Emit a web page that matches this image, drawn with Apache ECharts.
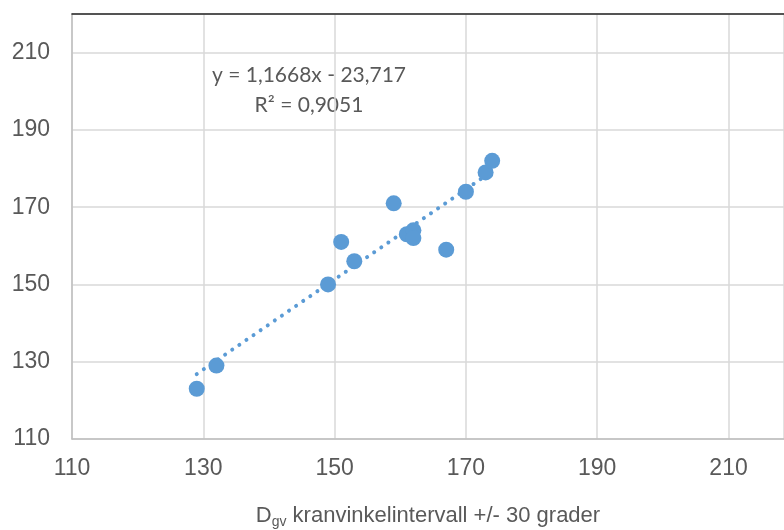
<!DOCTYPE html>
<html>
<head>
<meta charset="utf-8">
<script src="https://cdn.jsdelivr.net/npm/echarts@6/dist/echarts.min.js"></script>
<style>
html, body { margin: 0; padding: 0; background: #fff; }
#main { width: 784px; height: 530px; }
</style>
</head>
<body>
<div id="main"></div>
<script>
var myChart = echarts.init(document.getElementById('main'));

// målte punkter (x = Dgv kranvinkelintervall, y = verdi)
var xVals = [129, 132, 149, 151, 153, 159, 161, 162, 162, 167, 170, 173, 174];
var yVals = [123, 129, 150, 161, 156, 171, 163, 164, 162, 159, 174, 179, 182];
// trendlinje fra Excel
var slope = 1.1668;
var intercept = -23.717;
var trendX = [129, 174];
var xTicks = [110, 130, 150, 170, 190, 210];
var yTicks = [110, 130, 150, 170, 190, 210];

var points = [];
for (var i = 0; i < xVals.length; i++) {
	points.push([xVals[i], yVals[i]]);
}
var trend = [];
for (var i = 0; i < trendX.length; i++) {
	trend.push([trendX[i], slope * trendX[i] + intercept]);
}

var labelColor = '#595959';
var option = {
	animation: false,
	grid: { left: 72, top: 14, right: 0, bottom: 91, outerBoundsMode: 'none', containLabel: false },
	xAxis: [{
		type: 'value',
		min: 110,
		max: 218.45,
		interval: 20,
		axisLine: { show: true, lineStyle: { color: '#bfbfbf', width: 1.5 } },
		axisTick: { show: false },
		splitLine: { lineStyle: { color: '#d9d9d9', width: 1.5 } },
		axisLabel: {
			color: labelColor, fontSize: 23, fontFamily: 'Liberation Sans', margin: 18,
			formatter: function (v) { return xTicks.indexOf(v) >= 0 ? v : ''; }
		},
		name: '{a|D}{b|gv}{a| kranvinkelintervall +/- 30 grader}',
		nameLocation: 'middle',
		nameGap: 64,
		nameTextStyle: {
			rich: {
				a: { fontSize: 22, color: labelColor, fontFamily: 'Liberation Sans', lineHeight: 26 },
				b: { fontSize: 14, color: labelColor, fontFamily: 'Liberation Sans', padding: [12, 0, 0, 0], lineHeight: 26 }
			}
		}
	}, {
		type: 'value',
		position: 'top',
		min: 110,
		max: 218.45,
		axisLine: { show: true, lineStyle: { color: '#262626', width: 1.5 } },
		axisTick: { show: false },
		axisLabel: { show: false },
		splitLine: { show: false }
	}],
	yAxis: {
		type: 'value',
		min: 110,
		max: 220,
		interval: 20,
		axisLine: { show: true, lineStyle: { color: '#bfbfbf', width: 1.5 } },
		axisTick: { show: false },
		splitLine: { lineStyle: { color: '#d9d9d9', width: 1.5 } },
		axisLabel: {
			color: labelColor, fontSize: 23, fontFamily: 'Liberation Sans', margin: 22,
			formatter: function (v) { return yTicks.indexOf(v) >= 0 ? v : ''; }
		}
	},
	series: [{
		type: 'line',
		data: trend,
		symbol: 'none',
		silent: true,
		lineStyle: { color: '#5b9bd5', width: 4, type: [0.01, 8.6], cap: 'round' },
		z: 2
	}, {
		type: 'scatter',
		data: points,
		symbol: 'circle',
		symbolSize: 16,
		itemStyle: { color: '#5b9bd5', opacity: 1 },
		z: 3
	}],
	graphic: [{
		type: 'text',
		x: 309,
		y: 90,
		style: {
			text: 'y = 1,1668x - 23,717\nR² = 0,9051',
			align: 'center',
			verticalAlign: 'middle',
			fill: labelColor,
			font: '21px Lato',
			lineHeight: 30
		}
	}]
};
myChart.setOption(option);
</script>
</body>
</html>
